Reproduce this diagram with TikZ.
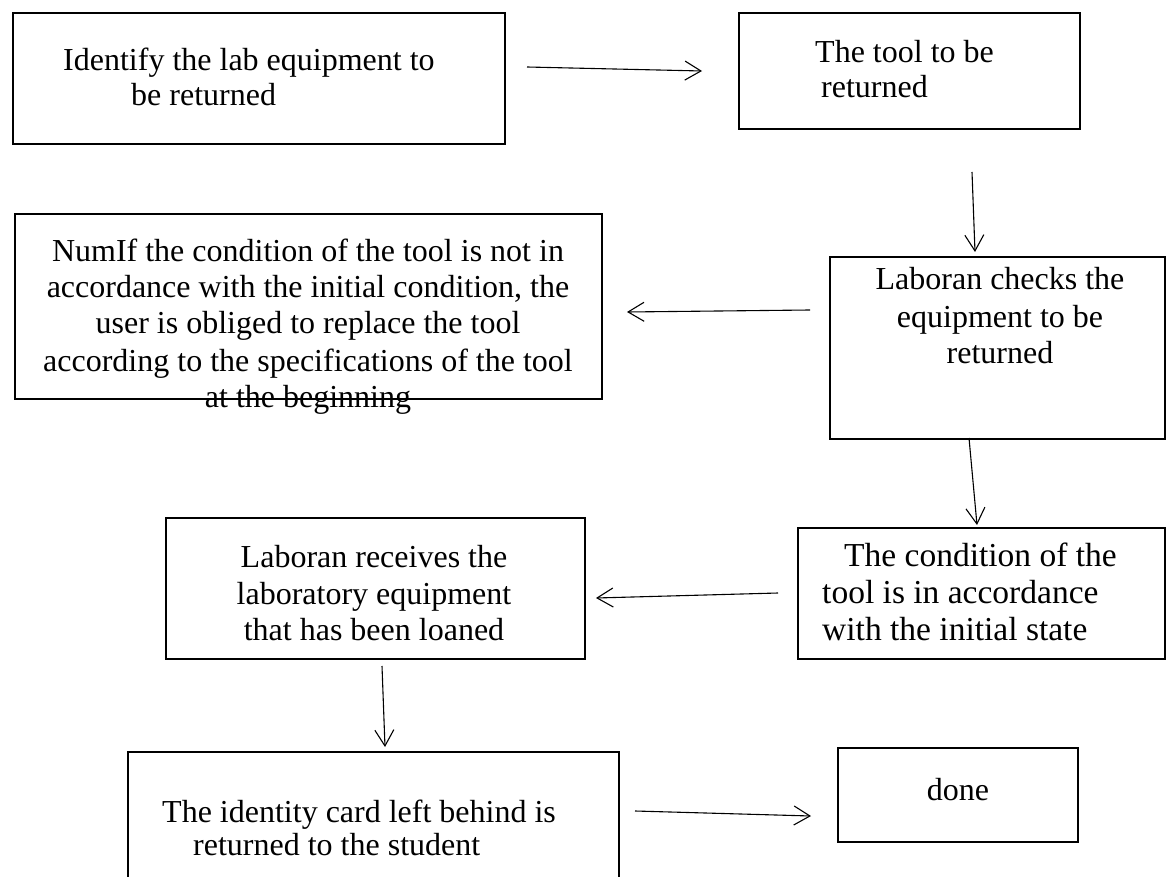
\documentclass[tikz,border=0pt]{standalone}
\usepackage{fontspec}
\setmainfont{Liberation Serif}
\usetikzlibrary{arrows.meta}
\begin{document}
\begin{tikzpicture}[x=1pt,y=-1pt,
  box/.style={draw, line width=1.8pt, inner sep=0pt, anchor=north west},
  arr/.style={line width=1.1pt, -{Straight Barb[length=16pt,width=19pt,line width=1.1pt]}},
  tl/.style={inner sep=0pt, anchor=base west, font=\fontsize{32}{36}\selectfont},
  tc/.style={inner sep=0pt, anchor=base, font=\fontsize{32}{36}\selectfont},
  tlb/.style={inner sep=0pt, anchor=base west, font=\fontsize{33.5}{37}\selectfont}]
\useasboundingbox (0,0) rectangle (1167,877);
\fill[white] (0,0) rectangle (1167,877);

% texts
\node[tl] (t1a) at (63,71) {Identify the lab equipment to};
\node[tl] (t1b) at (131,106) {be returned};
\node[tl] (t2a) at (815,63) {The tool to be};
\node[tl] (t2b) at (821,98) {returned};
\node[tc] (t3a) at (308,262) {NumIf the condition of the tool is not in};
\node[tc] (t3b) at (308,298) {accordance with the initial condition, the};
\node[tc] (t3c) at (308,334) {user is obliged to replace the tool};
\node[tc] (t3d) at (308,371) {according to the specifications of the tool};
\node[tc] (t3e) at (308,407) {at the beginning};
\node[tc] (t4a) at (1000,290) {Laboran checks the};
\node[tc] (t4b) at (1000,327) {equipment to be};
\node[tc] (t4c) at (1000,363) {returned};
\node[tc] (t5a) at (374,567) {Laboran receives the};
\node[tc] (t5b) at (374,604) {laboratory equipment};
\node[tc] (t5c) at (374,640) {that has been loaned};
\node[tlb] (t6a) at (844,566) {The condition of the};
\node[tlb] (t6b) at (822,603) {tool is in accordance};
\node[tlb] (t6c) at (822,640) {with the initial state};
\node[tl] (t7a) at (162,822) {The identity card left behind is};
\node[tl] (t7b) at (193,855) {returned to the student};
\node[tc] (t8) at (958,800) {done};

% boxes
\node[box, minimum width=492pt, minimum height=131pt] (b1) at (12,12) {};
\node[box, minimum width=341pt, minimum height=116pt] (b2) at (738,12) {};
\node[box, minimum width=587pt, minimum height=185pt] (b3) at (14,213) {};
\node[box, minimum width=335pt, minimum height=182pt] (b4) at (829,256) {};
\node[box, minimum width=419pt, minimum height=141pt] (b5) at (165,517) {};
\node[box, minimum width=367pt, minimum height=131pt] (b6) at (797,527) {};
\coordinate (b7tl) at (128,752);
\coordinate (b7tr) at (619,752);
\draw[line width=1.8pt] (b7tl |- 0,880) -- (b7tl) -- (b7tr) -- (b7tr |- 0,880);
\node[box, minimum width=240pt, minimum height=94pt] (b8) at (837,747) {};

% connector ends
\coordinate (a1s) at (527,67);  \coordinate (a1e) at (702,71);
\coordinate (a2s) at (972,172); \coordinate (a2e) at (975,252);
\coordinate (a3s) at (810,310); \coordinate (a3e) at (627,312);
\coordinate (a4s) at (969,438); \coordinate (a4e) at (977,525);
\coordinate (a5s) at (778,593); \coordinate (a5e) at (596,598);
\coordinate (a6s) at (382,666); \coordinate (a6e) at (385,747);
\coordinate (a7s) at (635,811); \coordinate (a7e) at (811,816);
\draw[arr] (a1s) -- (a1e);
\draw[arr] (a2s) -- (a2e);
\draw[arr] (a3s) -- (a3e);
\draw[arr] (a4s) -- (a4e);
\draw[arr] (a5s) -- (a5e);
\draw[arr] (a6s) -- (a6e);
\draw[arr] (a7s) -- (a7e);
\end{tikzpicture}
\end{document}
